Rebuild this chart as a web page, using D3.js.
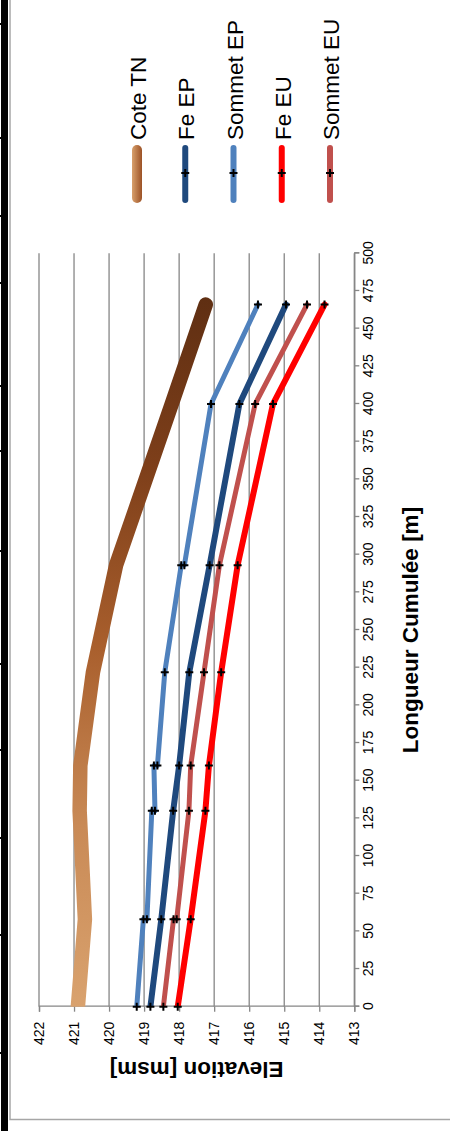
<!DOCTYPE html>
<html><head><meta charset="utf-8">
<script src="https://cdn.jsdelivr.net/npm/d3@7"></script>
<style>html,body{margin:0;padding:0;background:#fff;}svg{display:block;}</style>
</head><body>
<svg id="c" width="450" height="1131"></svg>
<script>
// ---- data ----
const elevTicks = [422, 421, 420, 419, 418, 417, 416, 415, 414, 413];
const lenTicks = [0, 25, 50, 75, 100, 125, 150, 175, 200, 225, 250, 275, 300, 325, 350, 375, 400, 425, 450, 475, 500];
const seriesNames = ["Cote TN", "Fe EP", "Sommet EP", "Fe EU", "Sommet EU"];
const coteTN_len  = [0, 58, 130, 160, 222, 293, 400, 466];
const coteTN_elev = [420.89, 420.69, 420.84, 420.82, 420.46, 419.80, 418.21, 417.24];
const feEP_len  = [0, 58, 130, 160, 222, 293, 400, 466];
const feEP_elev = [418.82, 418.51, 418.17, 418.00, 417.71, 417.13, 416.28, 414.95];
const sommetEP_len  = [0, 58, 58, 130, 130, 160, 160, 222, 293, 293, 400, 466];
const sommetEP_elev = [419.21, 419.02, 418.92, 418.78, 418.69, 418.72, 418.62, 418.41, 417.94, 417.85, 417.09, 415.75];
const feEU_len  = [0, 58, 130, 160, 222, 293, 400, 466];
const feEU_elev = [418.04, 417.67, 417.25, 417.15, 416.80, 416.33, 415.32, 413.85];
const sommetEU_len  = [0, 58, 58, 130, 160, 222, 293, 400, 466];
const sommetEU_elev = [418.45, 418.16, 418.07, 417.72, 417.67, 417.29, 416.85, 415.83, 414.35];

const zip = (a, b) => a.map((v, i) => [v, b[i]]);
const series = [
  {name: seriesNames[0], pts: zip(coteTN_len, coteTN_elev), color: "url(#gTN)", w: 14.5, marker: false},
  {name: seriesNames[1], pts: zip(feEP_len, feEP_elev), color: "#1F497D", w: 6, marker: true},
  {name: seriesNames[2], pts: zip(sommetEP_len, sommetEP_elev), color: "#4F81BD", w: 5, marker: true},
  {name: seriesNames[3], pts: zip(feEU_len, feEU_elev), color: "#FF0000", w: 6, marker: true},
  {name: seriesNames[4], pts: zip(sommetEU_len, sommetEU_elev), color: "#C0504D", w: 5, marker: true}
];

const svg = d3.select("#c");
const FONT = "'Liberation Sans', Arial, sans-serif";

// page decoration: left black bar and frame
svg.append("rect").attr("x", 1).attr("y", 0).attr("width", 7).attr("height", 1131).attr("fill", "#000");
[24, 138, 216, 283, 386, 451, 551, 664, 750, 838, 935, 1053].forEach(yy => {
  svg.append("rect").attr("x", 0).attr("y", yy - 1).attr("width", 3).attr("height", 2).attr("fill", "#000");
});
svg.append("path").attr("d", "M10,0V1119.5H450").attr("fill", "none").attr("stroke", "#A6A6A6").attr("stroke-width", 1.5);

// defs
const defs = svg.append("defs");
const g1 = defs.append("linearGradient").attr("id", "gTN").attr("gradientUnits", "userSpaceOnUse")
  .attr("x1", 124).attr("y1", 70).attr("x2", 845).attr("y2", 95);
[[0, "#D9A26E"], [0.25, "#C98A56"], [0.5, "#A95F2D"], [0.75, "#7E3F1A"], [1, "#5E2E12"]]
  .forEach(([o, c]) => g1.append("stop").attr("offset", o).attr("stop-color", c));
const g2 = defs.append("linearGradient").attr("id", "gTNleg").attr("x1", 0).attr("y1", 0).attr("x2", 0).attr("y2", 1);
[[0, "#D8A06C"], [1, "#9C5226"]].forEach(([o, c]) => g2.append("stop").attr("offset", o).attr("stop-color", c));

// rotated chart group: original orientation drawn in (u,v), then rotated -90deg
const g = svg.append("g").attr("transform", "translate(0,1131) rotate(-90)");

const x = d3.scaleLinear().domain([0, 500]).range([124.3, 877.7]);
const y = d3.scaleLinear().domain([422, 413]).range([39, 354.3]);

defs.append("clipPath").attr("id", "plotClip").append("rect")
  .attr("x", x(0)).attr("y", 0).attr("width", x(500) - x(0)).attr("height", 450);

// gridlines (horizontal in original)
g.append("g").selectAll("line").data(elevTicks).join("line")
  .attr("x1", x(0)).attr("x2", x(500)).attr("y1", d => y(d)).attr("y2", d => y(d))
  .attr("stroke", "#868686").attr("stroke-width", 1.3);

// axes
const xAxis = d3.axisBottom(x).tickValues(lenTicks).tickSize(5).tickPadding(4);
const gx = g.append("g").attr("transform", `translate(0,${y(413)})`).call(xAxis);
gx.select(".domain").attr("stroke", "#868686").attr("stroke-width", 1.3);
gx.selectAll(".tick line").attr("stroke", "#868686").attr("stroke-width", 1.3);
gx.selectAll(".tick text").attr("font-family", FONT).attr("font-size", 14).attr("fill", "#000");

const yAxis = d3.axisLeft(y).tickValues(elevTicks).tickSize(5).tickPadding(10).tickFormat(d3.format("d"));
const gy = g.append("g").attr("transform", `translate(${x(0)},0)`).call(yAxis);
gy.select(".domain").attr("stroke", "#868686").attr("stroke-width", 1.3);
gy.selectAll(".tick line").attr("stroke", "#868686").attr("stroke-width", 1.3);
gy.selectAll(".tick text").attr("font-family", FONT).attr("font-size", 14).attr("fill", "#000");

// axis titles
g.append("text").attr("x", (x(0) + x(500)) / 2).attr("y", 418).attr("text-anchor", "middle")
  .attr("font-family", FONT).attr("font-weight", "bold").attr("font-size", 22.5).text("Longueur Cumulée [m]");
g.append("text").attr("transform", `translate(69,${(y(422) + y(413)) / 2}) rotate(-90)`).attr("text-anchor", "middle")
  .attr("font-family", FONT).attr("font-weight", "bold").attr("font-size", 22.5).text("Elevation [msm]");

// lines
const line = d3.line().x(d => x(d[0])).y(d => y(d[1]));
const lines = g.append("g").attr("clip-path", "url(#plotClip)");
series.forEach(s => {
  lines.append("path").datum(s.pts).attr("d", line).attr("fill", "none")
    .attr("stroke", s.color).attr("stroke-width", s.w)
    .attr("stroke-linejoin", "round").attr("stroke-linecap", "round");
});
const plus = "M-4,0H4M0,-4V4";
series.filter(s => s.marker).forEach(s => {
  g.append("g").selectAll("path").data(s.pts).join("path")
    .attr("transform", d => `translate(${x(d[0])},${y(d[1])})`)
    .attr("d", plus).attr("stroke", "#000").attr("stroke-width", 2).attr("fill", "none");
});

// legend
const legV = d3.scalePoint().domain(seriesNames).range([137, 330]);
const leg = g.append("g");
series.forEach(s => {
  const v = legV(s.name);
  if (!s.marker) {
    leg.append("rect").attr("x", 928).attr("y", v - 5).attr("width", 58).attr("height", 10).attr("rx", 5)
      .attr("fill", "url(#gTNleg)");
  } else {
    leg.append("line").attr("x1", 931).attr("x2", 983).attr("y1", v).attr("y2", v)
      .attr("stroke", s.color).attr("stroke-width", 6).attr("stroke-linecap", "round");
    leg.append("path").attr("transform", `translate(958,${v})`).attr("d", plus)
      .attr("stroke", "#000").attr("stroke-width", 2).attr("fill", "none");
  }
  leg.append("text").attr("x", 991).attr("y", v + 9).attr("font-family", FONT).attr("font-size", 22.5)
    .attr("fill", "#000").text(s.name);
});
</script>
</body></html>
